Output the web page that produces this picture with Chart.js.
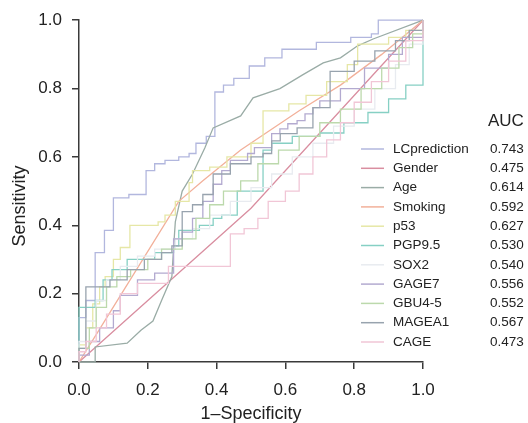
<!DOCTYPE html>
<html>
<head>
<meta charset="utf-8">
<script src="https://cdn.jsdelivr.net/npm/chart.js@4.4.1/dist/chart.umd.min.js"></script>
<style>
  html, body { margin: 0; padding: 0; background: #fff; }
  canvas { display: block; }
</style>
</head>
<body>
<canvas id="rocChart" width="528" height="423"></canvas>
<script>
// ROC curves, points are [1-specificity, sensitivity]
const lcprediction = [[0,0],[0,0.13],[0.02,0.18],[0.047,0.32],[0.074,0.385],[0.1,0.48],[0.145,0.49],[0.195,0.56],[0.22,0.58],[0.25,0.59],[0.29,0.6],[0.32,0.61],[0.34,0.64],[0.37,0.66],[0.395,0.79],[0.42,0.81],[0.45,0.83],[0.495,0.866],[0.54,0.89],[0.59,0.915],[0.69,0.935],[0.79,0.95],[0.85,0.96],[0.87,1],[1,1]];
const gender = [[0,0],[0.5,0.45],[1,1]];
const age = [[0,0],[0.047,0],[0.047,0.044],[0.14,0.055],[0.18,0.093],[0.215,0.12],[0.24,0.18],[0.27,0.25],[0.275,0.335],[0.28,0.41],[0.3,0.5],[0.33,0.55],[0.366,0.627],[0.39,0.685],[0.47,0.72],[0.506,0.773],[0.584,0.8],[0.65,0.84],[0.71,0.875],[0.76,0.89],[0.81,0.925],[0.855,0.945],[1,1]];
const smoking = [[0,0],[0.05,0.08],[0.29,0.47],[0.36,0.53],[0.47,0.62],[0.64,0.735],[0.76,0.81],[0.88,0.9],[1,1]];
const p53 = [[0,0],[0,0.05],[0.02,0.1],[0.04,0.17],[0.06,0.22],[0.076,0.25],[0.1,0.3],[0.12,0.335],[0.148,0.4],[0.23,0.41],[0.25,0.43],[0.28,0.47],[0.32,0.525],[0.33,0.56],[0.38,0.57],[0.43,0.6],[0.5,0.64],[0.535,0.735],[0.61,0.755],[0.66,0.78],[0.72,0.82],[0.78,0.87],[0.81,0.93],[0.9,0.95],[0.95,0.97],[1,1]];
const pgp95 = [[0,0],[0,0.16],[0.047,0.18],[0.07,0.24],[0.096,0.27],[0.14,0.3],[0.22,0.32],[0.275,0.34],[0.29,0.385],[0.35,0.4],[0.39,0.42],[0.415,0.43],[0.46,0.5],[0.535,0.62],[0.56,0.64],[0.62,0.66],[0.7,0.67],[0.77,0.7],[0.84,0.73],[0.9,0.77],[0.95,0.81],[1,0.82],[1,1]];
const sox2 = [[0,0],[0,0.06],[0.02,0.12],[0.05,0.18],[0.08,0.24],[0.12,0.28],[0.17,0.31],[0.22,0.33],[0.28,0.36],[0.33,0.39],[0.38,0.43],[0.44,0.47],[0.5,0.51],[0.56,0.55],[0.62,0.6],[0.68,0.64],[0.74,0.69],[0.8,0.74],[0.86,0.8],[0.92,0.87],[0.96,0.93],[1,1]];
const gage7 = [[0,0],[0,0.02],[0.03,0.06],[0.06,0.1],[0.1,0.15],[0.12,0.195],[0.17,0.24],[0.22,0.26],[0.275,0.36],[0.3,0.38],[0.33,0.42],[0.36,0.47],[0.39,0.52],[0.415,0.56],[0.44,0.59],[0.49,0.61],[0.51,0.627],[0.56,0.668],[0.584,0.682],[0.607,0.697],[0.634,0.706],[0.657,0.726],[0.68,0.744],[0.7,0.764],[0.76,0.8],[0.83,0.86],[0.9,0.9],[0.94,0.95],[1,1]];
const gbu45 = [[0,0],[0,0.04],[0.03,0.1],[0.05,0.16],[0.08,0.22],[0.11,0.25],[0.15,0.27],[0.2,0.3],[0.24,0.33],[0.3,0.36],[0.34,0.42],[0.38,0.46],[0.42,0.5],[0.47,0.53],[0.52,0.58],[0.58,0.62],[0.64,0.66],[0.7,0.7],[0.76,0.74],[0.82,0.8],[0.88,0.86],[0.93,0.92],[0.97,0.96],[1,1]];
const magea1 = [[0,0],[0,0.04],[0.02,0.22],[0.09,0.24],[0.14,0.27],[0.19,0.3],[0.24,0.32],[0.27,0.34],[0.3,0.44],[0.33,0.46],[0.36,0.49],[0.39,0.55],[0.44,0.58],[0.5,0.6],[0.535,0.61],[0.56,0.647],[0.585,0.668],[0.634,0.685],[0.68,0.744],[0.73,0.85],[0.8,0.88],[0.86,0.91],[0.92,0.94],[0.96,0.97],[1,1]];
const cage = [[0,0],[0,0.03],[0.02,0.06],[0.05,0.1],[0.08,0.14],[0.12,0.2],[0.17,0.23],[0.26,0.28],[0.44,0.375],[0.48,0.39],[0.52,0.42],[0.55,0.47],[0.6,0.5],[0.64,0.55],[0.68,0.6],[0.72,0.65],[0.76,0.7],[0.8,0.76],[0.85,0.82],[0.9,0.88],[0.95,0.94],[1,1]];

const seriesNames = ["LCprediction", "Gender", "Age", "Smoking", "p53", "PGP9.5", "SOX2", "GAGE7", "GBU4-5", "MAGEA1", "CAGE"];
const seriesData = [lcprediction, gender, age, smoking, p53, pgp95, sox2, gage7, gbu45, magea1, cage];
const aucValues = [0.743, 0.475, 0.614, 0.592, 0.627, 0.530, 0.540, 0.556, 0.552, 0.567, 0.473];
const tickValues = [0, 0.2, 0.4, 0.6, 0.8, 1.0];

const seriesColors = ["#b2b7de", "#d98ea0", "#9aaca6", "#f2b09a", "#e6e7a6", "#86d0c4", "#e8ebf0", "#b3aad0", "#bcd9ac", "#98a3ae", "#f1c6d6"];
// straight segments for these, steps for the rest
const straightLines = ["Gender", "Age", "Smoking"];

const fontFamily = '"Liberation Sans", Arial, Helvetica, sans-serif';
const axisColor = "#3a3a3a";

// AUC table on the right and the rotated y title
const aucLegend = {
  id: "aucLegend",
  afterDraw(chart) {
    const ctx = chart.ctx;
    ctx.save();
    ctx.fillStyle = "#222";
    ctx.textBaseline = "middle";
    ctx.font = "17px " + fontFamily;
    ctx.fillText("AUC", 488, 121);
    ctx.font = "13.5px " + fontFamily;
    seriesNames.forEach((name, i) => {
      const y = 149 + i * 19.3;
      ctx.strokeStyle = seriesColors[i];
      ctx.lineWidth = 1.5;
      ctx.beginPath();
      ctx.moveTo(361, y);
      ctx.lineTo(384, y);
      ctx.stroke();
      ctx.fillText(name, 393, y);
      ctx.fillText(aucValues[i].toFixed(3), 490, y);
    });
    ctx.translate(20, 206);
    ctx.rotate(-Math.PI / 2);
    ctx.textAlign = "center";
    ctx.font = "18px " + fontFamily;
    ctx.fillText("Sensitivity", 0, 0);
    ctx.restore();
  }
};

const ctx = document.getElementById("rocChart").getContext("2d");

const datasets = seriesNames.map((name, i) => ({
  label: name,
  data: seriesData[i].map((p) => ({ x: p[0], y: p[1] })),
  borderColor: seriesColors[i],
  borderWidth: 1.3,
  pointRadius: 0,
  showLine: true,
  fill: false,
  stepped: straightLines.includes(name) ? false : "before",
  clip: 3,
  order: seriesNames.length - i,
}));

const axisCommon = {
  type: "linear",
  min: 0,
  max: 1,
  afterBuildTicks: (scale) => {
    scale.ticks = tickValues.map((v) => ({ value: v }));
  },
  grid: {
    display: true,
    drawOnChartArea: false,
    drawTicks: true,
    tickLength: 7,
    color: axisColor,
    lineWidth: 1.5,
  },
  border: { display: true, color: axisColor, width: 1.5 },
};

new Chart(ctx, {
  type: "scatter",
  data: { datasets },
  options: {
    responsive: false,
    animation: false,
    devicePixelRatio: 1,
    layout: { padding: { top: 19, right: 105, bottom: 0, left: 0 } },
    plugins: {
      legend: { display: false },
      tooltip: { enabled: false },
    },
    scales: {
      x: {
        ...axisCommon,
        position: "bottom",
        afterFit: (scale) => { scale.height = 61; },
        ticks: {
          color: "#222",
          padding: 11,
          maxRotation: 0,
          font: { family: fontFamily, size: 17 },
          callback: (v) => Number(v).toFixed(1),
        },
        title: {
          display: true,
          text: "1\u2013Specificity",
          color: "#222",
          font: { family: fontFamily, size: 18, lineHeight: 1 },
          padding: { top: 0, bottom: 0 },
        },
      },
      y: {
        ...axisCommon,
        position: "left",
        afterFit: (scale) => { scale.width = 79; },
        ticks: {
          color: "#222",
          padding: 10,
          font: { family: fontFamily, size: 17 },
          callback: (v) => Number(v).toFixed(1),
        },
      },
    },
  },
  plugins: [aucLegend],
});
</script>
</body>
</html>
